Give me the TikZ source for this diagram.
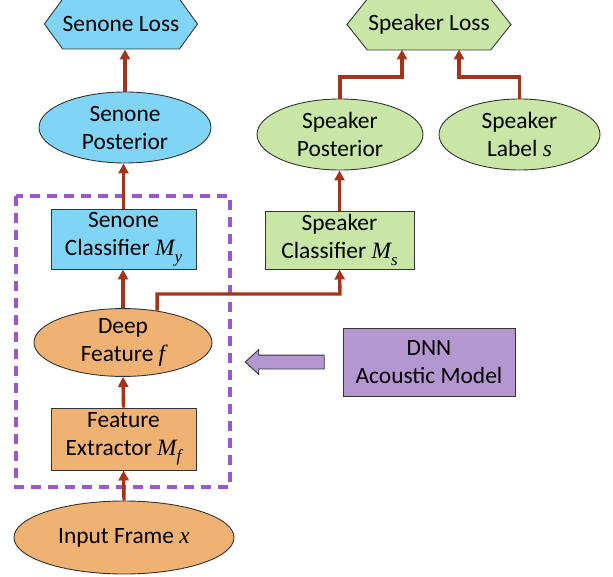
\documentclass[tikz,border=0pt]{standalone}
\usepackage{fontspec}
\setmainfont{Carlito}
\newfontfamily\mathlike{Liberation Serif}
\usetikzlibrary{shapes.geometric,shapes.symbols,shapes.arrows,arrows.meta}
\definecolor{cblue}{HTML}{80D5F6}
\definecolor{cgreen}{HTML}{C8E6A6}
\definecolor{corange}{HTML}{F0B272}
\definecolor{cpurple}{HTML}{B497D0}
\definecolor{cdash}{HTML}{9B57CE}
\definecolor{carrow}{HTML}{A3341A}
\definecolor{cline}{HTML}{333333}
\newcommand{\mvar}[2]{{\mathlike\itshape #1}\ifx\relax#2\relax\else\raisebox{-0.28em}{\fontsize{17}{17}\selectfont\mathlike\itshape #2}\fi}
\begin{document}
\begin{tikzpicture}[x=1pt,y=-1pt,
  every node/.style={font=\fontsize{23.4}{28}\selectfont, align=center, inner sep=0pt, draw=cline, line width=0.9pt},
  boxnode/.style={rectangle},
  ellnode/.style={ellipse},
  hexnode/.style={signal, signal to=west and east},
  arr/.style={draw=carrow, line width=3.4pt, -{Triangle[width=10pt,length=10pt]}},
]
\useasboundingbox (0,0) rectangle (613,577);
% dashed box
\draw[cdash, line width=3.3pt, dash pattern=on 10pt off 7pt] (16,196) rectangle (230,487);

% nodes
\node[hexnode, fill=cblue, minimum width=142pt, minimum height=50pt, signal pointer angle=108] (sloss) at (121,24) {Senone Loss};
\node[hexnode, fill=cgreen, minimum width=164pt, minimum height=51pt, signal pointer angle=103] (kloss) at (429,24.5) {Speaker Loss};
\node[ellnode, fill=cblue, minimum width=172pt, minimum height=71pt] (spost) at (125,127.5) {Senone\\Posterior};
\node[ellnode, fill=cgreen, minimum width=166pt, minimum height=71pt] (kpost) at (340,134.5) {Speaker\\Posterior};
\node[ellnode, fill=cgreen, minimum width=161pt, minimum height=71pt] (klabel) at (519.5,134.5) {Speaker\\Label \mvar{s}{}};
\node[boxnode, fill=cblue, minimum width=145pt, minimum height=60pt] (scls) at (123.5,239) {Senone\\Classifier \mvar{M}{y}};
\node[boxnode, fill=cgreen, minimum width=149pt, minimum height=58pt] (kcls) at (339.5,240) {Speaker\\Classifier \mvar{M}{s}};
\node[ellnode, fill=corange, minimum width=178pt, minimum height=65pt] (df) at (123,342.5) {Deep\\Feature \mvar{f}{}};
\node[boxnode, fill=cpurple, minimum width=172pt, minimum height=68pt] (dnn) at (429,362) {DNN\\Acoustic Model};
\node[boxnode, fill=corange, minimum width=145pt, minimum height=62pt] (fe) at (123.5,439) {Feature\\Extractor \mvar{M}{f}};
\node[ellnode, fill=corange, minimum width=220pt, minimum height=73pt] (inp) at (124,537.5) {Input Frame \mvar{x}{}};
\node[single arrow, fill=cpurple, inner sep=6.5pt, minimum height=79pt, minimum width=24pt, single arrow head extend=5.5pt, single arrow tip angle=85, shape border rotate=180] (parr) at (288.5,362) {};

% connectors
\draw[arr] (inp.north) -- (fe.south);
\draw[arr] (fe.north) -- (df.south);
\draw[arr] (df.north) -- (df.north |- scls.south);
\draw[arr] (scls.north) -- (scls.north |- spost.south);
\draw[arr] (spost.north) -- (spost.north |- sloss.south);
\draw[arr] (df.43) |- (340,294) -- (kcls.south);
\draw[arr] (kcls.north) -- (kcls.north |- kpost.south);
\draw[arr] (kpost.north) |- (402,77) -- (402,49.5);
\draw[arr] (klabel.north) |- (459,77) -- (459,49.5);
\end{tikzpicture}
\end{document}
